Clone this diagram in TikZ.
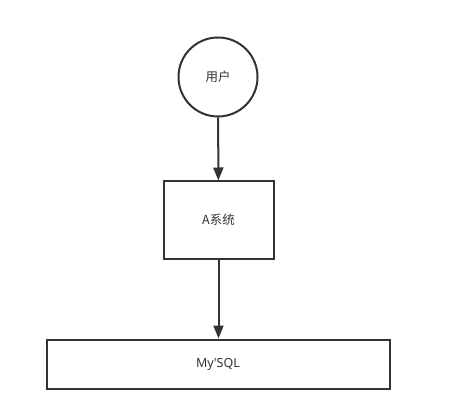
\documentclass[tikz,border=0pt]{standalone}
\usepackage{fontspec}
\setmainfont{Noto Sans CJK SC}
\newfontfamily\latinfont{Noto Sans}
\usetikzlibrary{arrows.meta}
\usetikzlibrary{positioning}
\definecolor{lineGray}{HTML}{333333}
\definecolor{textGray}{HTML}{333333}
\tikzset{
  user/.style={draw=lineGray, line width=2pt, circle, minimum size=79pt, inner sep=0pt,
    text=textGray, font=\fontsize{12.5}{14}\selectfont},
  sysbox/.style={draw=lineGray, line width=2pt, rectangle, inner sep=0pt,
    text=textGray, font=\fontsize{12.5}{14}\selectfont},
  flow/.style={draw=lineGray, line width=2pt, -{Triangle[length=13pt,width=10pt]}},
}

\begin{document}
\begin{tikzpicture}[x=1pt,y=-1pt]
\useasboundingbox (0,0) rectangle (454,403);

%%%%%%%%%%%%%%%%%%%%%%%%%%%%%%%%%%%%%%%%%%%%%%%%%%%%%%%%%%%%%% nodes
\node[user] (user) at (218,77) {用户};
\node[sysbox, minimum width=110pt, minimum height=77pt] (asys) at (218.5,220) {A系统};
\node[sysbox, minimum width=343pt, minimum height=49pt] (mysql) at (218,364) {{\latinfont My\textquotesingle SQL}};

%%%%%%%%%%%%%%%%%%%%%%%%%%%%%%%%%%%%%%%%%%%%%%%%%%%%%%%%%%%%%% arrows
\draw[flow] (user) -- (asys);
\draw[flow] (asys) -- (asys|-mysql.north);

\end{tikzpicture}
\end{document}
